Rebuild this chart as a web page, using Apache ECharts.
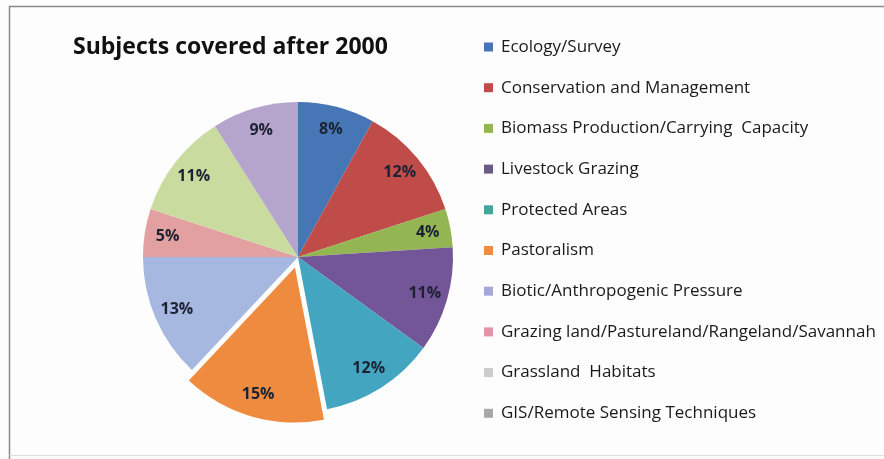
<!DOCTYPE html>
<html>
<head>
<meta charset="utf-8">
<script src="https://cdn.jsdelivr.net/npm/echarts@6/dist/echarts.min.js"></script>
<style>
html,body{margin:0;padding:0;background:#fdfdfd;}
#c{width:884px;height:459px;}
</style>
</head>
<body>
<div id="c"></div>
<script>
const titleText = "Subjects covered after 2000";
const categories = [
  "Ecology/Survey",
  "Conservation and Management",
  "Biomass Production/Carrying  Capacity",
  "Livestock Grazing",
  "Protected Areas",
  "Pastoralism",
  "Biotic/Anthropogenic Pressure",
  "Grazing land/Pastureland/Rangeland/Savannah",
  "Grassland  Habitats",
  "GIS/Remote Sensing Techniques"
];
const values = [8, 12, 4, 11, 12, 15, 13, 5, 11, 9];
const sliceColors = ["#4676B6", "#BF4C49", "#93B552", "#735698", "#44A5C0", "#EE8B3F", "#A6B8DF", "#E2A0A0", "#C9DB9F", "#B5A5CC"];
const legendColors = ["#4676B6", "#BF4C49", "#93B552", "#6A5A86", "#44A59A", "#EE8B3F", "#A6A8D8", "#E294A8", "#CCCCCC", "#A8A8A8"];
const explodedName = "Pastoralism";

const chart = echarts.init(document.getElementById('c'), null, {renderer: 'canvas'});
const mainData = categories.map((n, i) => ({
  name: n, value: values[i], selected: n === explodedName,
  itemStyle: {color: sliceColors[i]}
}));
const labelData = categories.map((n, i) => ({
  name: n, value: values[i], selected: n === explodedName
}));
const FONT = "'Open Sans', 'Noto Sans', sans-serif";
chart.setOption({
  animation: false,
  backgroundColor: '#fdfdfd',
  title: {
    text: titleText, left: 68, top: 31,
    textStyle: {fontFamily: FONT, fontSize: 23, fontWeight: 'bold', color: '#111'}
  },
  legend: {
    orient: 'vertical', left: 484, top: 37, padding: 0,
    icon: 'rect', itemWidth: 9, itemHeight: 9, itemGap: 20.7,
    textStyle: {fontFamily: FONT, fontSize: 17, color: '#1a1a1a', lineHeight: 20, padding: [0, 0, 0, 3]},
    data: categories.map((n, i) => ({name: n, itemStyle: {color: legendColors[i]}})),
    selectedMode: false
  },
  graphic: [{
    type: 'polyline', silent: true,
    shape: {points: [[9.5, 459], [9.5, 6.5], [884, 6.5]]},
    style: {stroke: '#8a8a8a', lineWidth: 1.5, fill: null}
  }, {
    type: 'line', silent: true,
    shape: {x1: 9.5, y1: 455.5, x2: 884, y2: 455.5},
    style: {stroke: '#dddddd', lineWidth: 1}
  }],
  series: [{
    type: 'pie', center: [298, 257], radius: 155,
    startAngle: 90, clockwise: true,
    selectedMode: 'single', selectedOffset: 11,
    label: {show: false}, labelLine: {show: false},
    emphasis: {disabled: true},
    itemStyle: {borderWidth: 0},
    data: mainData
  }, {
    type: 'pie', center: [298, 257], radius: [103, 155],
    startAngle: 90, clockwise: true, silent: true,
    selectedMode: 'single', selectedOffset: 11,
    itemStyle: {color: 'rgba(0,0,0,0)', borderWidth: 0},
    label: {show: true, position: 'inside', formatter: '{c}%',
      fontFamily: FONT, fontSize: 16, fontWeight: 'bold', color: '#1c2233'},
    labelLine: {show: false},
    emphasis: {disabled: true},
    data: labelData
  }]
});
</script>
</body>
</html>
